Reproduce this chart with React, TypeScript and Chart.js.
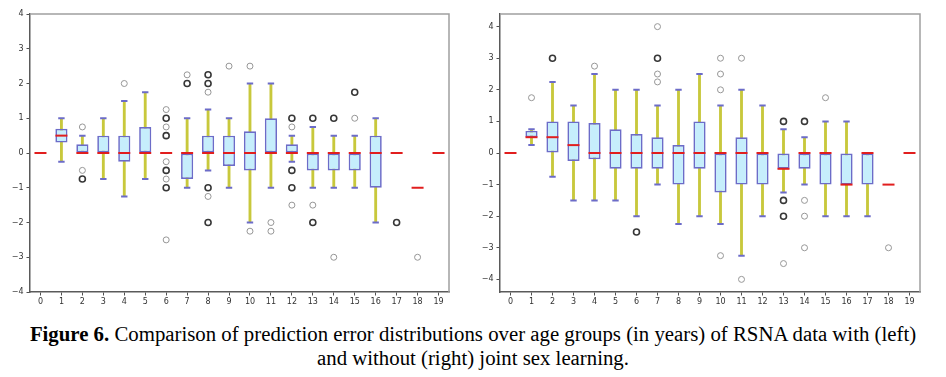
import React, { useEffect, useRef } from 'react';
import { Chart, registerables } from 'chart.js';

Chart.register(...registerables);

const categories = ['0', '1', '2', '3', '4', '5', '6', '7', '8', '9', '10', '11', '12', '13', '14', '15', '16', '17', '18', '19'];
const yTicks = [-4, -3, -2, -1, 0, 1, 2, 3, 4];

// Left: with joint sex learning
const leftQ1 = [null, 0.3, 0, 0, -0.25, 0, null, -0.75, 0, -0.375, -0.5, 0, 0, -0.5, -0.5, -0.5, -1, null, null, null];
const leftQ3 = [null, 0.7, 0.25, 0.5, 0.5, 0.75, null, 0, 0.5, 0.5, 0.625, 1, 0.25, 0, 0, 0, 0.5, null, null, null];
const leftMed = [0, 0.5, 0, 0, 0, 0, 0, 0, 0, 0, 0, 0, 0, 0, 0, 0, 0, 0, -1, 0];
const leftLo = [null, -0.25, 0, -0.75, -1.25, -0.75, null, -1, -0.5, -1, -2, -1, -0.25, -1, -1, -1, -2, null, null, null];
const leftHi = [null, 1, 0.5, 1, 1.5, 1.75, null, 1, 1.25, 1, 2, 2, 0.5, 0.75, 0.5, 0.5, 1, null, null, null];
const leftFliersLight: [number, number][] = [
  [2, 0.75], [2, -0.5], [4, 2], [6, 1.25], [6, 0.75], [6, -0.25], [6, -0.75], [6, -2.5],
  [7, 2.25], [8, 1.75], [8, -1.25], [9, 2.5], [10, 2.5], [10, -2.25], [11, -2], [11, -2.25],
  [12, 0.75], [12, -1.5], [13, -1.5], [14, -3], [15, 1], [18, -3],
];
const leftFliersDark: [number, number][] = [
  [2, -0.75], [6, 1], [6, 0.5], [6, -0.5], [6, -1], [7, 2], [8, 2.25], [8, 2], [8, -1], [8, -2],
  [12, 1], [12, -0.5], [12, -1], [13, 1], [13, -2], [14, 1], [15, 1.75], [17, -2],
];

// Right: without joint sex learning
const rightQ1 = [null, 0.5, 0, -0.25, -0.2, -0.5, -0.5, -0.5, -1, -0.5, -1.25, -1, -1, -0.5, -0.5, -1, -1, -1, null, null];
const rightQ3 = [null, 0.7, 1, 1, 0.95, 0.75, 0.6, 0.5, 0.25, 1, 0, 0.5, 0, 0, 0, 0, 0, 0, null, null];
const rightMed = [0, 0.5, 0.5, 0.25, 0, 0, 0, 0, 0, 0, 0, 0, 0, -0.5, 0, 0, -1, 0, -1, 0];
const rightLo = [null, 0.25, -0.75, -1.5, -1.5, -1.5, -2, -1, -2.25, -2, -2.25, -3.25, -2, -1.25, -1, -2, -2, -2, null, null];
const rightHi = [null, 0.75, 2.25, 1.5, 2.5, 2, 2, 1.5, 2, 2.5, 1.5, 2, 1.5, 0.75, 0.5, 1, 1, 0, null, null];
const rightFliersLight: [number, number][] = [
  [1, 1.75], [4, 2.75], [7, 4], [7, 2.5], [7, 2.25], [10, 3], [10, 2.5], [10, 2], [10, -3.25],
  [11, 3], [11, -4], [13, -3.5], [14, -1.5], [14, -2], [14, -3], [15, 1.75], [18, -3],
];
const rightFliersDark: [number, number][] = [
  [2, 3], [6, -2.5], [7, 3], [13, 1], [13, -1.5], [13, -2], [14, 1],
];

const BOX_FILL = 'rgb(198,238,252)';
const BOX_EDGE = 'rgb(108,108,200)';
const WHISKER = 'rgb(200,200,60)';
const MEDIAN = 'rgb(225,30,30)';
const FLIER_LIGHT = 'rgb(150,150,150)';
const FLIER_DARK = 'rgb(55,55,55)';

function buildDatasets(
  q1: (number | null)[], q3: (number | null)[], med: number[],
  lo: (number | null)[], hi: (number | null)[],
  light: [number, number][], dark: [number, number][],
): any[] {
  const boxData = categories.map((_, i) => (q1[i] === null ? null : [q1[i], q3[i]]));
  const whiskerData = categories.map((_, i) => (lo[i] === null ? null : [lo[i], hi[i]]));
  const capData: { x: string; y: number }[] = [];
  categories.forEach((c, i) => {
    if (lo[i] !== null && hi[i] !== null) {
      capData.push({ x: c, y: lo[i] as number });
      capData.push({ x: c, y: hi[i] as number });
    }
  });
  const medData = categories.map((c, i) => ({ x: c, y: med[i] }));
  const lightData = light.map(([c, v]) => ({ x: categories[c], y: v }));
  const darkData = dark.map(([c, v]) => ({ x: categories[c], y: v }));
  const pointBase = { type: 'line', showLine: false, pointHoverRadius: 0 };
  return [
    {
      type: 'bar', data: whiskerData, backgroundColor: WHISKER, barThickness: 2.2,
      grouped: false, order: 6, borderWidth: 0,
    },
    {
      ...pointBase, data: capData, pointStyle: 'line', pointRadius: 3.2,
      pointBorderColor: BOX_EDGE, pointBorderWidth: 2, order: 5,
    },
    {
      type: 'bar', data: boxData, backgroundColor: BOX_FILL, borderColor: BOX_EDGE,
      borderWidth: 1.7, borderSkipped: false, barPercentage: 0.58, categoryPercentage: 1,
      grouped: false, order: 4,
    },
    {
      ...pointBase, data: medData, pointStyle: 'line', pointRadius: 6,
      pointBorderColor: MEDIAN, pointBorderWidth: 2, order: 3,
    },
    {
      ...pointBase, data: lightData, pointStyle: 'circle', pointRadius: 3,
      pointBackgroundColor: 'rgba(0,0,0,0)', pointBorderColor: FLIER_LIGHT, pointBorderWidth: 1, order: 2,
    },
    {
      ...pointBase, data: darkData, pointStyle: 'circle', pointRadius: 3,
      pointBackgroundColor: 'rgba(0,0,0,0)', pointBorderColor: FLIER_DARK, pointBorderWidth: 1.6, order: 1,
    },
  ];
}

const framePlugin = {
  id: 'frame',
  afterDatasetsDraw(chart: any) {
    const { ctx, chartArea } = chart;
    ctx.save();
    ctx.strokeStyle = 'rgb(160,160,160)';
    ctx.lineWidth = 1.5;
    ctx.beginPath();
    ctx.moveTo(chartArea.left, chartArea.top);
    ctx.lineTo(chartArea.right, chartArea.top);
    ctx.lineTo(chartArea.right, chartArea.bottom);
    ctx.stroke();
    ctx.restore();
  },
};

function BoxChart(props: {
  left: number; yMin: number; yMax: number; rightPad: number;
  q1: (number | null)[]; q3: (number | null)[]; med: number[];
  lo: (number | null)[]; hi: (number | null)[];
  light: [number, number][]; dark: [number, number][];
}) {
  const ref = useRef<HTMLCanvasElement | null>(null);
  useEffect(() => {
    if (!ref.current) return;
    const tickFont = { family: '"DejaVu Sans", sans-serif', size: 8 };
    const chart = new Chart(ref.current, {
      type: 'bar',
      data: {
        labels: categories,
        datasets: buildDatasets(props.q1, props.q3, props.med, props.lo, props.hi, props.light, props.dark),
      },
      options: {
        responsive: false,
        animation: false,
        events: [],
        layout: { padding: { top: 14, right: props.rightPad, left: 0, bottom: 0 } },
        plugins: { legend: { display: false }, tooltip: { enabled: false } },
        scales: {
          x: {
            type: 'category',
            offset: true,
            grid: { offset: false, drawOnChartArea: false, drawTicks: true, tickLength: 3.5, color: 'rgb(80,80,80)' },
            border: { color: 'rgb(90,90,90)', width: 1.5 },
            ticks: { font: tickFont, color: 'rgb(50,50,50)', padding: 2, maxRotation: 0, autoSkip: false },
            afterFit: (s: any) => { s.height = 18; },
          },
          y: {
            type: 'linear',
            min: props.yMin,
            max: props.yMax,
            grid: { drawOnChartArea: false, drawTicks: true, tickLength: 3.5, color: 'rgb(80,80,80)' },
            border: { color: 'rgb(90,90,90)', width: 1.5 },
            ticks: {
              font: tickFont, color: 'rgb(50,50,50)', padding: 3,
              callback: (v: any) => (Number(v) < 0 ? '\u2212' + Math.abs(Number(v)) : String(v)),
            },
            afterBuildTicks: (s: any) => { s.ticks = yTicks.map((v) => ({ value: v })); },
            afterFit: (s: any) => { s.width = 30; },
          },
        },
      } as any,
      plugins: [framePlugin],
    });
    return () => chart.destroy();
  }, []);
  return (
    <canvas
      ref={ref}
      width={460}
      height={310}
      style={{ position: 'absolute', left: props.left, top: 0, width: 460, height: 310, display: 'block' }}
    />
  );
}

export default function App() {
  return (
    <div style={{ position: 'absolute', left: 0, top: 0, width: 946, height: 377, background: '#fff', overflow: 'hidden' }}>
      <BoxChart left={0} yMin={-4} yMax={4} rightPad={11}
        q1={leftQ1} q3={leftQ3} med={leftMed} lo={leftLo} hi={leftHi}
        light={leftFliersLight} dark={leftFliersDark} />
      <BoxChart left={470} yMin={-4.4} yMax={4.4} rightPad={10}
        q1={rightQ1} q3={rightQ3} med={rightMed} lo={rightLo} hi={rightHi}
        light={rightFliersLight} dark={rightFliersDark} />
      <div style={{
        position: 'absolute', left: 0, top: 322, width: 946, textAlign: 'center', whiteSpace: 'nowrap',
        fontFamily: '"Liberation Serif", "Times New Roman", serif', fontSize: 20.8, lineHeight: '24px', color: '#000',
      }}>
        <b>Figure 6.</b> Comparison of prediction error distributions over age groups (in years) of RSNA data with (left)
        <br />
        and without (right) joint sex learning.
      </div>
    </div>
  );
}
